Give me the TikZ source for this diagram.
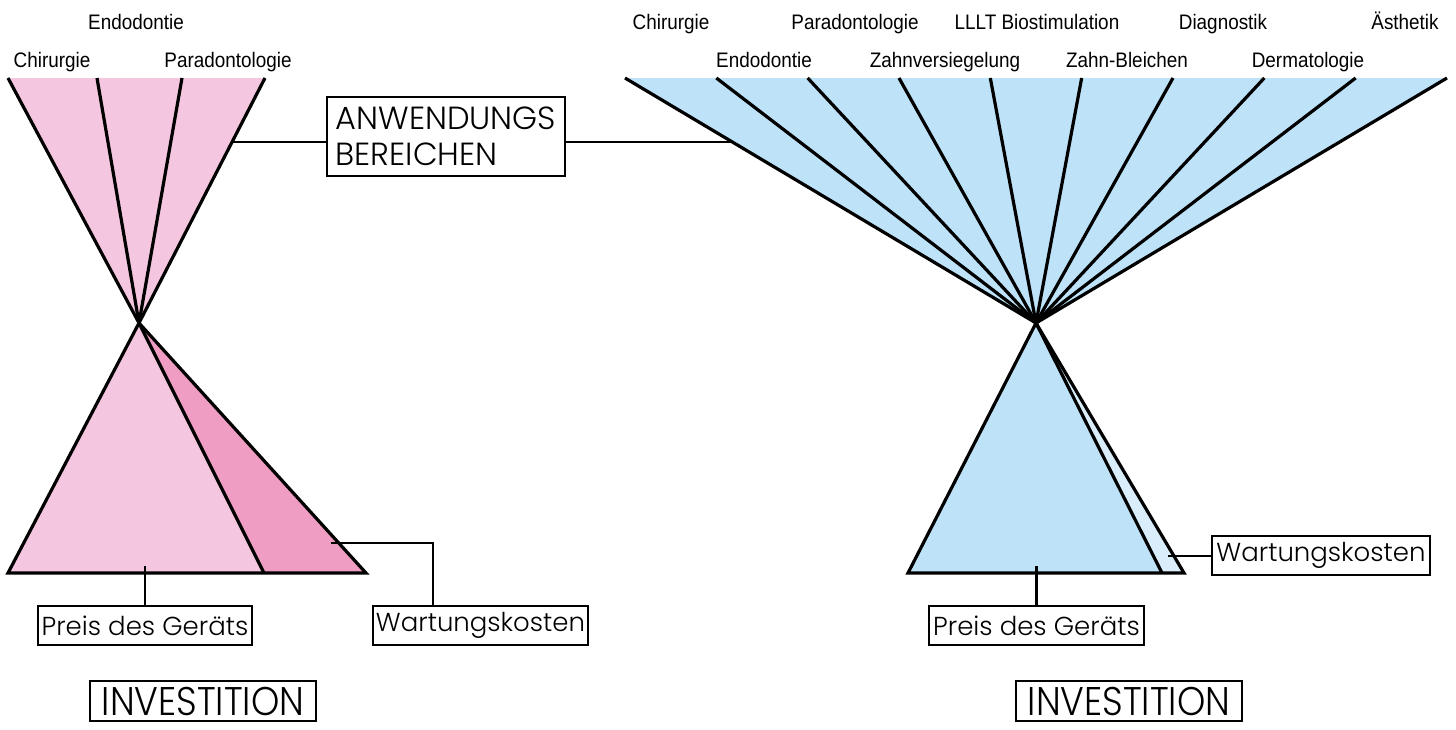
\documentclass[tikz,border=0pt]{standalone}
\usepackage{fontspec}
\setmainfont{Liberation Sans}
\newfontfamily\boxfont{Poppins Light}
\newfontfamily\invfont{Poppins Light}[FakeStretch=0.9]
\newcommand\lbtext[1]{\scalebox{0.9}[1]{#1}}
\definecolor{pinkL}{HTML}{F5C6DF}
\definecolor{pinkD}{HTML}{F09DC3}
\definecolor{blueM}{HTML}{BEE3F8}
\definecolor{blueL}{HTML}{D9EEFA}
\begin{document}
\begin{tikzpicture}[x=1pt,y=-1pt,
  ray/.style={line width=3.2pt,black},
  lead/.style={line width=2.5pt,black},
  lbl/.style={font=\fontsize{21}{24}\selectfont,inner sep=0pt,anchor=base},
  tag/.style={draw,line width=2.5pt,font=\boxfont\fontsize{26}{28}\selectfont,inner sep=0pt,minimum height=39pt},
  bigtag/.style={draw,line width=2.5pt,font=\invfont\fontsize{40}{42}\selectfont,inner sep=2pt,minimum height=40pt,minimum width=226pt}]
\useasboundingbox (0,0) rectangle (1456,729);
\coordinate (apexL) at (139,323);
\coordinate (apexR) at (1036,323);
% left top fan
\fill[pinkL] (8,78) -- (265,78) -- (apexL) -- cycle;
\foreach \x in {8,97,182,265} \draw[ray] (\x,78) -- (apexL);
% left bottom cone
\fill[pinkL] (apexL) -- (8,573) -- (264,573) -- cycle;
\fill[pinkD] (apexL) -- (264,573) -- (366,573) -- cycle;
\draw[ray] (apexL) -- (8,573) -- (366,573) -- cycle;
\draw[ray] (apexL) -- (264,573);
% right top fan
\fill[blueM] (625,78) -- (1447,78) -- (apexR) -- cycle;
\foreach \i in {0,...,9} \draw[ray] ({625+91.33*\i},78) -- (apexR);
% right bottom cone
\fill[blueM] (apexR) -- (908,573) -- (1162,573) -- cycle;
\fill[blueL] (apexR) -- (1162,573) -- (1184,573) -- cycle;
\draw[ray] (apexR) -- (908,573) -- (1184,573) -- cycle;
\draw[ray] (apexR) -- (1162,573);
% top labels left
\node[lbl] (lEndo) at (136,29) {\lbtext{Endodontie}};
\node[lbl] (lChir) at (52,67) {\lbtext{Chirurgie}};
\node[lbl] (lPara) at (228,67) {\lbtext{Paradontologie}};
% top labels right
\node[lbl] (rChir) at (671,29) {\lbtext{Chirurgie}};
\node[lbl] (rPara) at (855,29) {\lbtext{Paradontologie}};
\node[lbl] (rLLLT) at (1037,29) {\lbtext{LLLT Biostimulation}};
\node[lbl] (rDiag) at (1223,29) {\lbtext{Diagnostik}};
\node[lbl] (rAest) at (1405,29) {\lbtext{Ästhetik}};
\node[lbl] (rEndo) at (764,67) {\lbtext{Endodontie}};
\node[lbl] (rZahn) at (945,67) {\lbtext{Zahnversiegelung}};
\node[lbl] (rBlei) at (1127,67) {\lbtext{Zahn-Bleichen}};
\node[lbl] (rDerm) at (1308,67) {\lbtext{Dermatologie}};
% boxes
\node[tag,font=\boxfont\fontsize{32}{36}\selectfont,minimum width=238pt,minimum height=79pt,align=left] (anw) at (446,136.5) {ANWENDUNGS\\BEREICHEN};
\node[tag,minimum width=214pt] (preisL) at (145,625.5) {Preis des Geräts};
\node[tag,minimum width=215pt] (wartL) at (480.5,625.5) {Wartungskosten};
\node[tag,minimum width=215pt] (preisR) at (1036.5,625.5) {Preis des Geräts};
\node[tag,minimum width=218pt] (wartR) at (1321,555.5) {Wartungskosten};
\node[bigtag] (invL) at (203,701) {INVESTITION};
\node[bigtag] (invR) at (1129,701) {INVESTITION};
% leaders
\coordinate (aL) at (233,142);
\coordinate (aR) at (734,142);
\draw[lead] (aL) -- (aL -| anw.west);
\draw[lead] (anw.east |- aR) -- (aR);
\coordinate (pL) at (145,566);
\draw[lead] (pL) -- (pL |- preisL.north);
\coordinate (wL) at (331,543);
\draw[lead] (wL) -| ([xshift=-47.5pt]wartL.north);
\coordinate (pR) at (1036.5,566);
\draw[lead] (pR) -- (pR |- preisR.north);
\coordinate (wR) at (1168,556);
\draw[lead] (wR) -- (wR -| wartR.west);
\end{tikzpicture}
\end{document}
